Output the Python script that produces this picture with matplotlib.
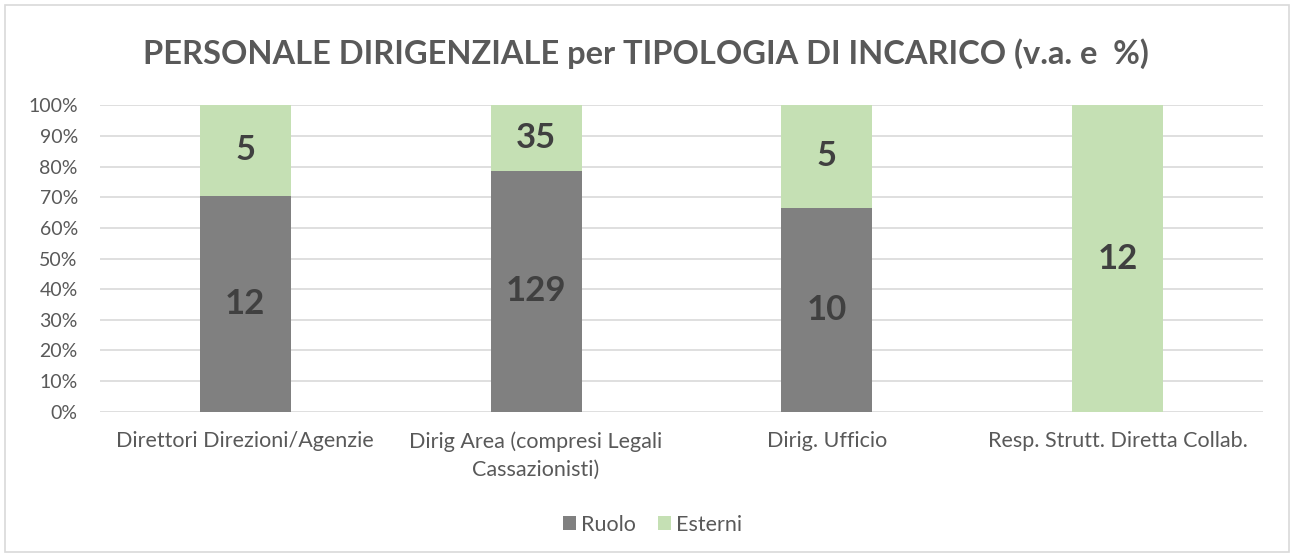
import numpy as np
import matplotlib
matplotlib.use("Agg")
import matplotlib.pyplot as plt
from matplotlib.patches import Rectangle

plt.rcParams['font.family'] = ['Lato', 'DejaVu Sans']

categorie = ["Direttori Direzioni/Agenzie",
             "Dirig Area (compresi Legali\nCassazionisti)",
             "Dirig. Ufficio",
             "Resp. Strutt. Diretta Collab."]
ruolo = [12, 129, 10, 0]
esterni = [5, 35, 5, 12]

col_ruolo = "#808080"
col_esterni = "#C5E0B4"
col_testo = "#595959"

ruolo = np.array(ruolo, dtype=float)
esterni = np.array(esterni, dtype=float)
tot = ruolo + esterni
p_ruolo = ruolo / tot * 100
p_esterni = esterni / tot * 100

fig = plt.figure(figsize=(12.92, 5.57), dpi=100)
ax = fig.add_axes([0.0774, 0.2612, 0.900, 0.5494])

x = np.arange(len(categorie))
w = 0.313
ax.bar(x, p_ruolo, w, color=col_ruolo, label="Ruolo", zorder=3)
ax.bar(x, p_esterni, w, bottom=p_ruolo, color=col_esterni, label="Esterni", zorder=3)

for i in range(len(x)):
    if ruolo[i] > 0:
        ax.text(x[i], p_ruolo[i] / 2, f"{int(ruolo[i])}", ha="center", va="center",
                fontsize=25, fontweight="bold", color="#404040", zorder=4)
    if esterni[i] > 0:
        ax.text(x[i], p_ruolo[i] + p_esterni[i] / 2, f"{int(esterni[i])}", ha="center",
                va="center", fontsize=25, fontweight="bold", color="#404040", zorder=4)

ax.set_xlim(-0.5, len(x) - 0.5)
ax.set_ylim(0, 100)
ax.set_yticks(np.arange(0, 101, 10))
ax.set_yticklabels([f"{v}%" for v in range(0, 101, 10)])
ax.set_xticks(x)
ax.set_xticklabels(categorie, linespacing=1.5)
ax.tick_params(length=0, labelcolor=col_testo)
ax.tick_params(axis="x", pad=14, labelsize=15.5)
ax.tick_params(axis="y", pad=16, labelsize=14)
ax.grid(axis="y", color="#D9D9D9", linewidth=1.2, zorder=0)
for s in ax.spines.values():
    s.set_visible(False)

fig.text(0.5, 0.903, "PERSONALE DIRIGENZIALE per TIPOLOGIA DI INCARICO (v.a. e  %)",
         ha="center", va="center", fontsize=23.5, fontweight="bold", color=col_testo)

fig.legend(loc="center", bbox_to_anchor=(0.505, 0.058), ncol=2, frameon=False,
           fontsize=15.5, labelcolor=col_testo, handlelength=0.6, handleheight=0.6,
           handletextpad=0.25, columnspacing=1.0)

fig.patches.append(Rectangle((0.004, 0.009), 0.994, 0.982, transform=fig.transFigure,
                             fill=False, edgecolor="#D9D9D9", linewidth=1.2))

fig.savefig("out.png", dpi=100, facecolor="white")
